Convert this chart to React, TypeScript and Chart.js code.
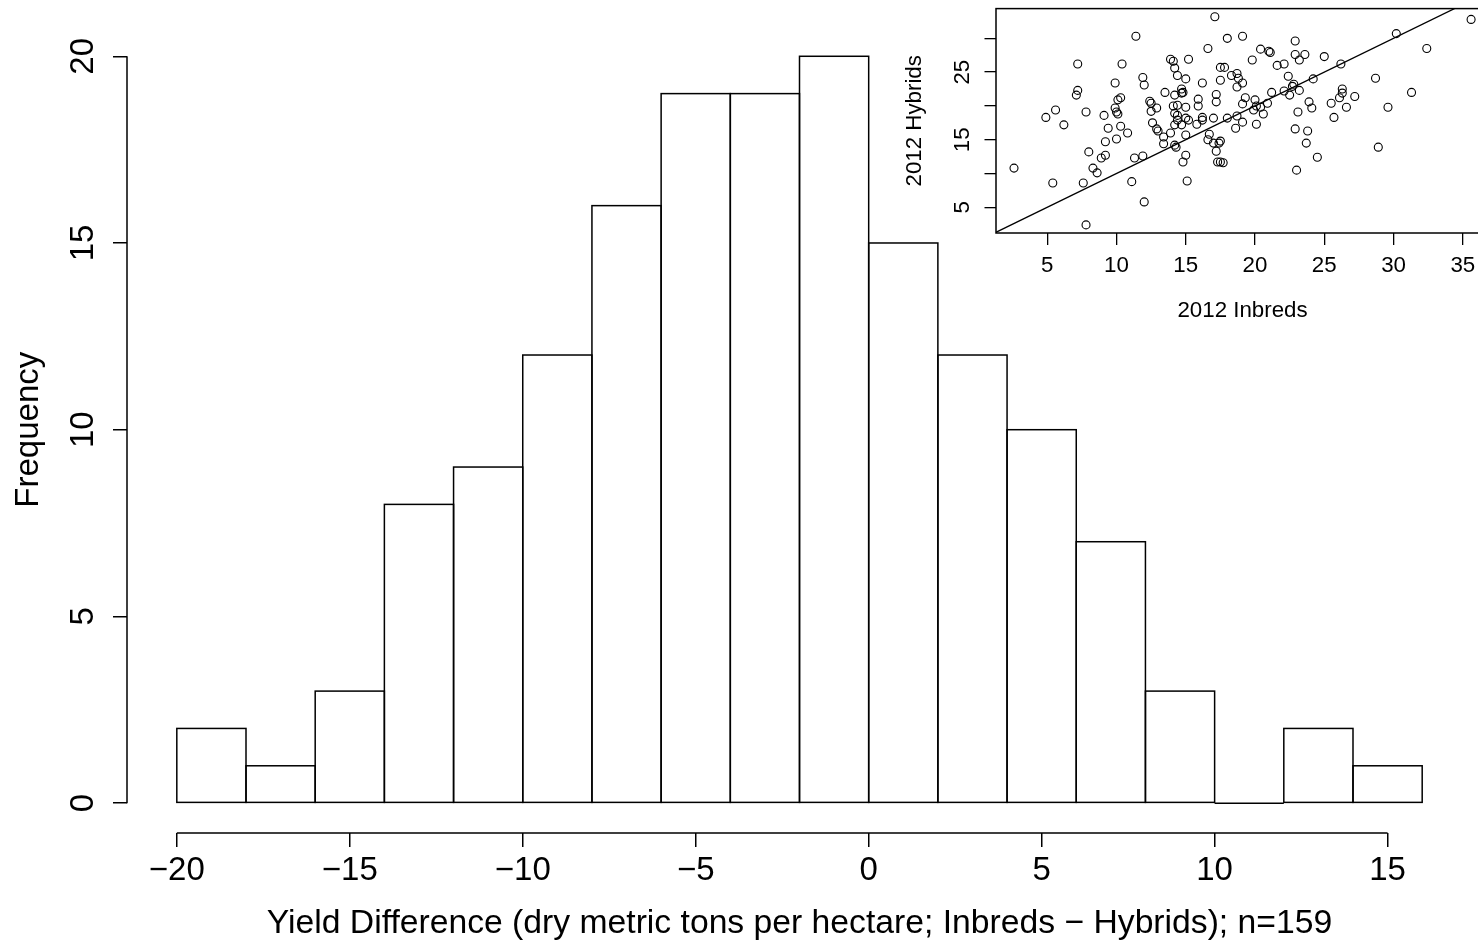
import React, { useEffect, useRef } from "react";
import Chart from "chart.js/auto";

// ---------- Main histogram data ----------
const binStarts = [-20, -18, -16, -14, -12, -10, -8, -6, -4, -2, 0, 2, 4, 6, 8, 10, 12, 14];
const binWidth = 2;
const frequencies = [2, 1, 3, 8, 9, 12, 16, 19, 19, 20, 15, 12, 10, 7, 3, 0, 2, 1];
const xTickValues = [-20, -15, -10, -5, 0, 5, 10, 15];
const yTickValues = [0, 5, 10, 15, 20];
const xLabel = "Yield Difference (dry metric tons per hectare; Inbreds \u2212 Hybrids); n=159";
const yLabel = "Frequency";

// ---------- Inset scatter data ----------
const inbreds = [
  11.4, 7.2, 10.4, 11.9, 12.0, 9.9, 7.2, 7.1, 10.3, 10.1, 12.4, 12.5, 5.6, 7.8, 9.1, 9.9, 10.0, 10.1, 12.5, 4.9,
  12.9, 17.1, 18.0, 19.1, 16.6, 20.4, 21.0, 21.1, 22.9, 22.9, 23.6, 23.2, 13.9, 14.1, 15.2, 19.8, 21.6, 22.1, 17.5, 17.8,
  14.2, 14.4, 15.0, 18.3, 18.7, 18.8, 22.4, 24.2, 17.5, 16.2, 19.1, 18.7, 22.8, 22.7, 13.5, 14.7, 14.8, 14.7, 14.2, 17.2,
  17.2, 21.2, 22.1, 23.2, 22.5, 19.3, 20.0, 19.1, 15.9, 15.9, 14.1, 14.4, 15.0, 20.1, 20.4, 19.9, 20.9, 23.9, 24.1, 23.1,
  20.6, 14.2, 14.4, 18.7, 18.0, 17.0, 16.2, 15.0, 35.6, 30.2, 32.4, 25.0, 26.2, 28.7, 26.3, 26.3, 26.1, 27.2, 31.3, 25.5,
  26.6, 29.6, 25.7, 6.2, 9.4, 10.3, 12.6, 12.9, 13.0, 10.8, 9.2, 10.0, 8.0, 9.2, 8.9, 11.3, 11.9, 2.6, 8.3, 8.6,
  5.4, 7.6, 11.1, 12.0, 7.8, 13.4, 13.9, 14.2, 14.4, 14.7, 15.2, 15.8, 16.2, 15.0, 13.4, 14.2, 14.3, 19.1, 18.6, 20.1,
  16.7, 16.6, 17.0, 17.5, 17.4, 17.2, 17.3, 17.5, 17.7, 15.0, 14.8, 15.1, 22.9, 23.8, 23.7, 24.5, 23.0, 28.9,
];
const hybrids = [
  30.3, 26.2, 26.2, 24.2, 23.1, 23.4, 22.3, 21.6, 21.2, 20.9, 20.7, 20.4, 19.4, 19.1, 18.6, 19.7, 19.1, 18.8, 19.2, 18.3,
  19.7, 33.2, 30.0, 30.3, 28.5, 28.4, 28.1, 27.9, 29.6, 27.6, 27.6, 26.8, 26.9, 26.6, 26.9, 26.8, 26.0, 26.2, 25.7, 25.7,
  25.6, 24.5, 24.0, 24.5, 24.8, 24.1, 24.4, 24.0, 23.8, 23.4, 23.4, 22.8, 23.2, 22.9, 22.0, 22.5, 22.0, 21.9, 21.6, 21.7,
  20.6, 22.0, 22.2, 22.3, 21.6, 21.2, 20.9, 20.3, 21.0, 20.0, 20.0, 20.1, 19.8, 20.0, 19.8, 19.4, 20.4, 20.6, 19.7, 19.1,
  18.8, 18.9, 18.6, 18.5, 18.2, 18.2, 18.3, 18.2, 32.8, 30.7, 28.5, 27.3, 26.2, 24.1, 22.5, 21.9, 21.2, 21.4, 22.0, 20.4,
  19.8, 19.8, 18.3, 17.2, 16.7, 17.0, 17.5, 16.6, 16.3, 16.0, 14.7, 15.1, 13.2, 12.7, 12.3, 12.3, 12.6, 10.8, 10.8, 10.1,
  8.6, 8.6, 8.8, 5.8, 2.4, 15.4, 16.0, 17.2, 17.9, 17.2, 17.9, 17.3, 17.9, 15.7, 14.4, 14.2, 13.9, 17.6, 16.7, 17.3,
  15.8, 15.0, 14.5, 14.8, 14.5, 13.3, 11.7, 11.7, 11.6, 12.7, 11.7, 8.9, 16.6, 16.3, 14.5, 12.4, 10.5, 13.9,
];
const insetXTicks = [5, 10, 15, 20, 25, 30, 35];
const insetYTicks = [5, 10, 15, 20, 25, 30];
const insetYLabelled = [5, 15, 25];
const oneToOneLine = [0, 40];
const insetXLabel = "2012 Inbreds";
const insetYLabel = "2012 Hybrids";

const FONT = "'Liberation Sans', Arial, Helvetica, sans-serif";
const fmtMinus = (v: number) => (v < 0 ? "\u2212" + Math.abs(v) : String(v));

const histPlugin = {
  id: "histDecor",
  afterDatasetsDraw(chart: any) {
    const { ctx } = chart;
    const xs = chart.scales.x;
    const ys = chart.scales.y;
    const meta = chart.getDatasetMeta(0);
    ctx.save();
    ctx.strokeStyle = "#000";
    ctx.lineWidth = 1.5;
    meta.data.forEach((bar: any) => {
      const p = bar.getProps(["x", "y", "base", "width"], true);
      ctx.strokeRect(p.x - p.width / 2, Math.min(p.y, p.base), p.width, Math.abs(p.base - p.y));
    });
    ctx.beginPath();
    ctx.moveTo(xs.getPixelForValue(xTickValues[0]), xs.top);
    ctx.lineTo(xs.getPixelForValue(xTickValues[xTickValues.length - 1]), xs.top);
    ctx.moveTo(ys.right, ys.getPixelForValue(yTickValues[0]));
    ctx.lineTo(ys.right, ys.getPixelForValue(yTickValues[yTickValues.length - 1]));
    ctx.stroke();
    ctx.restore();
  },
};

const boxPlugin = {
  id: "insetBox",
  afterDraw(chart: any) {
    const { ctx, chartArea } = chart;
    ctx.save();
    ctx.strokeStyle = "#000";
    ctx.lineWidth = 1.5;
    ctx.strokeRect(chartArea.left, chartArea.top, chartArea.right - chartArea.left, chartArea.bottom - chartArea.top);
    ctx.restore();
  },
};

export default function App() {
  const mainRef = useRef<HTMLCanvasElement | null>(null);
  const insetRef = useRef<HTMLCanvasElement | null>(null);

  useEffect(() => {
    if (!mainRef.current || !insetRef.current) return;
    const mainFont = { family: FONT, size: 33 };
    const xTitleFont = { family: FONT, size: 33.7 };
    const insetFont = { family: FONT, size: 22.3 };

    const main = new Chart(mainRef.current, {
      type: "bar",
      data: {
        datasets: [
          {
            data: binStarts.map((s, i) => ({ x: s + binWidth / 2, y: frequencies[i] })),
            backgroundColor: "#ffffff",
            borderWidth: 0,
            barPercentage: 1,
            categoryPercentage: 1,
          } as any,
        ],
      },
      options: {
        responsive: false,
        animation: false,
        devicePixelRatio: 1,
        events: [],
        layout: { padding: { top: 26.4, right: 6, left: 0, bottom: 0 } },
        plugins: { legend: { display: false }, tooltip: { enabled: false } },
        scales: {
          x: {
            type: "linear",
            position: "bottom",
            min: -21.44,
            max: 17.44,
            offset: false,
            afterBuildTicks: (s: any) => {
              s.ticks = xTickValues.map((v) => ({ value: v }));
            },
            afterFit: (s: any) => {
              s.height = 113;
              s.paddingLeft = 0;
              s.paddingRight = 0;
            },
            grid: { offset: false, drawOnChartArea: false, drawTicks: true, tickLength: 14, color: "#000", lineWidth: 1.5 },
            border: { display: false },
            ticks: {
              font: mainFont,
              color: "#000",
              padding: 3.7,
              maxRotation: 0,
              autoSkip: false,
              callback: (v: any) => fmtMinus(Number(v)),
            },
            title: { display: true, text: xLabel, font: xTitleFont, color: "#000", padding: { top: 0, bottom: 2.2 } },
          },
          y: {
            type: "linear",
            min: -0.8,
            max: 20.8,
            afterBuildTicks: (s: any) => {
              s.ticks = yTickValues.map((v) => ({ value: v }));
            },
            afterFit: (s: any) => {
              s.width = 127;
              s.paddingTop = 0;
              s.paddingBottom = 0;
            },
            grid: { drawOnChartArea: false, drawTicks: true, tickLength: 14, color: "#000", lineWidth: 1.5 },
            border: { display: false },
            ticks: {
              font: mainFont,
              color: "#000",
              padding: 11.15,
              minRotation: 90,
              maxRotation: 90,
              crossAlign: "center",
              autoSkip: false,
              callback: (v: any) => fmtMinus(Number(v)),
            },
            title: { display: true, text: yLabel, font: mainFont, color: "#000", padding: { top: 9.2, bottom: 0 } },
          },
        },
      } as any,
      plugins: [histPlugin],
    });

    const inset = new Chart(insetRef.current, {
      type: "scatter",
      data: {
        datasets: [
          {
            type: "scatter",
            data: inbreds.map((v, i) => ({ x: v, y: hybrids[i] })),
            pointStyle: "circle",
            pointRadius: 4,
            pointBorderWidth: 1.1,
            pointBorderColor: "#000",
            pointBackgroundColor: "rgba(0,0,0,0)",
            showLine: false,
          } as any,
          {
            type: "line",
            data: oneToOneLine.map((v) => ({ x: v, y: v })),
            borderColor: "#000",
            borderWidth: 1.3,
            pointRadius: 0,
            fill: false,
          } as any,
        ],
      },
      options: {
        responsive: false,
        animation: false,
        devicePixelRatio: 1,
        events: [],
        layout: { padding: { top: 8.6, right: 10.9, left: 0, bottom: 0 } },
        plugins: { legend: { display: false }, tooltip: { enabled: false } },
        scales: {
          x: {
            type: "linear",
            min: 1.3,
            max: 36.9,
            afterBuildTicks: (s: any) => {
              s.ticks = insetXTicks.map((v) => ({ value: v }));
            },
            afterFit: (s: any) => {
              s.height = 107;
              s.paddingLeft = 0;
              s.paddingRight = 0;
            },
            grid: { drawOnChartArea: false, drawTicks: true, tickLength: 12, color: "#000", lineWidth: 1.3 },
            border: { display: false },
            ticks: { font: insetFont, color: "#000", padding: 7.6, maxRotation: 0, autoSkip: false },
            title: { display: true, text: insetXLabel, font: insetFont, color: "#000", padding: { top: 0, bottom: 15.6 } },
          },
          y: {
            type: "linear",
            min: 1.2,
            max: 34.4,
            afterBuildTicks: (s: any) => {
              s.ticks = insetYTicks.map((v) => ({ value: v }));
            },
            afterFit: (s: any) => {
              s.width = 116;
              s.paddingTop = 0;
              s.paddingBottom = 0;
            },
            grid: { drawOnChartArea: false, drawTicks: true, tickLength: 11.5, color: "#000", lineWidth: 1.3 },
            border: { display: false },
            ticks: {
              font: insetFont,
              color: "#000",
              padding: 9.6,
              minRotation: 90,
              maxRotation: 90,
              crossAlign: "center",
              autoSkip: false,
              callback: (v: any) => (insetYLabelled.includes(Number(v)) ? String(v) : ""),
            },
            title: { display: true, text: insetYLabel, font: insetFont, color: "#000", padding: { top: 21.6, bottom: 0 } },
          },
        },
      } as any,
      plugins: [boxPlugin],
    });

    return () => {
      main.destroy();
      inset.destroy();
    };
  }, []);

  return (
    <div
      style={{
        position: "fixed",
        left: 0,
        top: 0,
        width: 1478,
        height: 946,
        overflow: "hidden",
        background: "#ffffff",
      }}
    >
      <canvas
        ref={mainRef}
        width={1478}
        height={946}
        style={{ position: "absolute", left: 0, top: 0, width: 1478, height: 946, display: "block" }}
      />
      <canvas
        ref={insetRef}
        width={620}
        height={340}
        style={{ position: "absolute", left: 880, top: 0, width: 620, height: 340, display: "block" }}
      />
    </div>
  );
}
